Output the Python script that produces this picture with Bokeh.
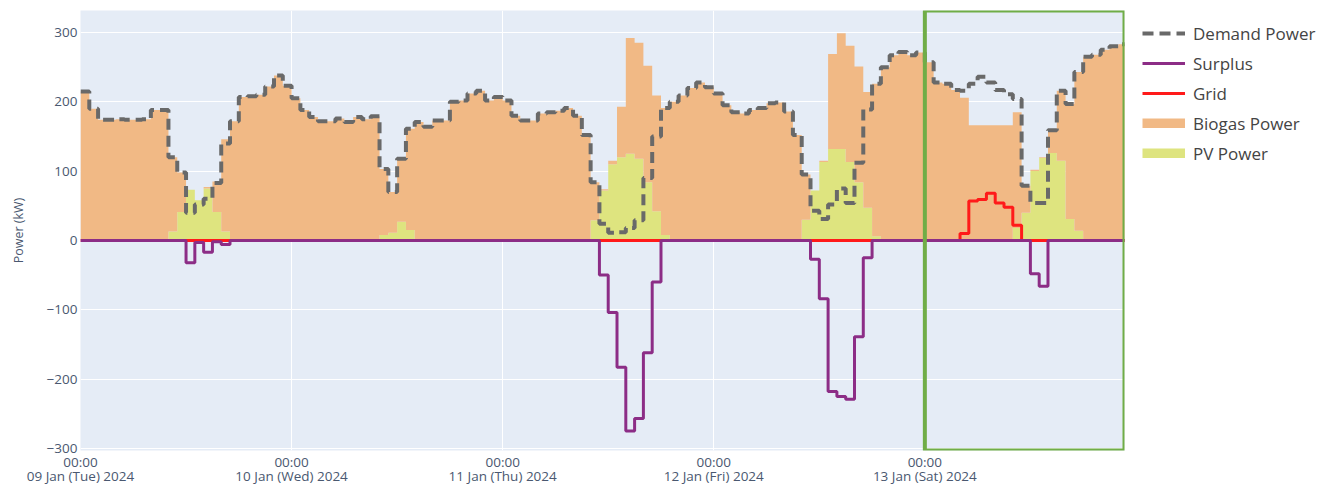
import numpy as np
from bokeh.plotting import figure
from bokeh.models import Range1d, FixedTicker, Legend, LegendItem, BoxAnnotation
from bokeh.embed import file_html
from bokeh.resources import INLINE

# ---------------- data (hourly, starting 09 Jan 2024 00:00) ----------------
hours = list(range(120))

demand_kw = [215, 190, 174, 174, 175, 174, 174, 175, 188, 188, 120, 98, 40, 52, 60, 83, 140, 172, 207, 208, 210, 222, 238, 223,
             205, 188, 178, 172, 172, 176, 171, 178, 175, 179, 103, 70, 118, 161, 171, 164, 173, 173, 200, 202, 212, 216, 202, 207,
             202, 180, 173, 173, 183, 185, 187, 191, 180, 152, 84, 24, 11, 12, 18, 29, 90, 150, 191, 200, 209, 220, 228, 221,
             212, 195, 185, 183, 188, 191, 198, 199, 186, 152, 95, 43, 31, 52, 75, 54, 112, 189, 226, 250, 267, 272, 267, 271,
             257, 228, 226, 217, 216, 226, 236, 228, 217, 211, 204, 79, 54, 54, 159, 216, 197, 243, 265, 268, 275, 280, 283, 283]

pv_kw = [0, 0, 0, 0, 0, 0, 0, 0, 0, 0, 13, 41, 73, 58, 75, 41, 13, 0, 0, 0, 0, 0, 0, 0,
         0, 0, 0, 0, 0, 0, 0, 0, 0, 0, 8, 11, 27, 15, 0, 0, 0, 0, 0, 0, 0, 0, 0, 0,
         0, 0, 0, 0, 0, 0, 0, 0, 0, 0, 29, 72, 110, 120, 125, 118, 84, 42, 8, 0, 0, 0, 0, 0,
         0, 0, 0, 0, 0, 0, 0, 0, 0, 0, 30, 72, 113, 132, 132, 113, 84, 47, 6, 0, 0, 0, 0, 0,
         0, 0, 0, 0, 0, 0, 0, 0, 0, 0, 18, 40, 100, 119, 126, 115, 31, 14, 0, 0, 0, 0, 0, 0]

biogas_kw = [215, 190, 174, 174, 175, 174, 174, 175, 188, 188, 107, 57, 0, 0, 2, 44, 133, 172, 207, 208, 210, 222, 238, 223,
             205, 188, 178, 172, 172, 176, 171, 178, 175, 179, 95, 59, 91, 146, 171, 164, 173, 173, 200, 202, 212, 216, 202, 207,
             202, 180, 173, 173, 183, 185, 187, 191, 180, 152, 55, 2, 5, 73, 167, 167, 168, 167, 183, 200, 209, 220, 228, 221,
             212, 195, 185, 183, 188, 191, 198, 199, 186, 152, 65, 0, 2, 137, 167, 168, 167, 167, 220, 250, 267, 272, 267, 271,
             257, 228, 226, 217, 206, 166, 166, 166, 166, 166, 167, 39, 2, 1, 33, 101, 166, 229, 265, 268, 275, 280, 283, 283]

grid_kw = [0] * 100 + [10, 57, 59, 68, 54, 48, 22] + [0] * 13

surplus_kw = [0, 0, 0, 0, 0, 0, 0, 0, 0, 0, 0, 0, -32, -3, -17, -2, -6, 0, 0, 0, 0, 0, 0, 0,
              0, 0, 0, 0, 0, 0, 0, 0, 0, 0, 0, 0, 0, 0, 0, 0, 0, 0, 0, 0, 0, 0, 0, 0,
              0, 0, 0, 0, 0, 0, 0, 0, 0, 0, 0, -50, -104, -183, -275, -257, -162, -60, 0, 0, 0, 0, 0, 0,
              0, 0, 0, 0, 0, 0, 0, 0, 0, 0, 0, -27, -84, -218, -225, -229, -139, -25, 0, 0, 0, 0, 0, 0,
              0, 0, 0, 0, 0, 0, 0, 0, 0, 0, 0, 0, -48, -66, 0, 0, 0, 0, 0, 0, 0, 0, 0, 0]

day_ticks = [0, 24, 48, 72, 96]
day_tick_labels = ["00:00\n09 Jan (Tue) 2024", "00:00\n10 Jan (Wed) 2024", "00:00\n11 Jan (Thu) 2024",
                   "00:00\n12 Jan (Fri) 2024", "00:00\n13 Jan (Sat) 2024"]
power_ticks = [-300, -200, -100, 0, 100, 200, 300]
power_tick_labels = ["\u2212300", "\u2212200", "\u2212100", "0", "100", "200", "300"]
highlight_start_h = 96  # 13 Jan (Sat) 00:00

X_END = 118.7
Y_MIN, Y_MAX = -303, 331.7

# ---------------- styling ----------------
FONT = "Open Sans"
TXT = "#4a5870"
BG = "#E5ECF6"
C_BIO = "#F1B985"
C_PV = "#DEE47F"
C_SUR = "#8C2D86"
C_GRID = "#FF1A1A"
C_DEM = "#696969"

FRAME_W, FRAME_H = 1044, 440

p = figure(frame_width=FRAME_W, frame_height=FRAME_H, output_backend="svg", toolbar_location=None,
           x_range=Range1d(0, X_END), y_range=Range1d(Y_MIN, Y_MAX),
           min_border_left=80, min_border_right=208, min_border_top=10, min_border_bottom=0,
           background_fill_color=BG, border_fill_color="white", outline_line_color=None)


def ext(a):
    return np.array(list(a) + [a[-1]], dtype=float)


x = np.array(hours + [hours[-1] + 1], dtype=float)
pv = ext(pv_kw)
bio_top = pv + ext(biogas_kw)

r_pv = p.varea_step(x=x, y1=np.zeros_like(x), y2=pv, step_mode="after", fill_color=C_PV)
r_bio = p.varea_step(x=x, y1=pv, y2=bio_top, step_mode="after", fill_color=C_BIO)
r_grid = p.step(x, ext(grid_kw), mode="after", line_color=C_GRID, line_width=3)
r_sur = p.step(x, ext(surplus_kw), mode="after", line_color=C_SUR, line_width=3)
r_dem = p.step(x, ext(demand_kw), mode="after", line_color=C_DEM, line_width=4, line_dash="11 6")

# legend swatches for the filled areas (thin bars, as in the original legend)
sw_bio = p.line(x=[np.nan], y=[np.nan], line_color=C_BIO, line_width=10)
sw_pv = p.line(x=[np.nan], y=[np.nan], line_color=C_PV, line_width=10)

box = BoxAnnotation(left=highlight_start_h, right=X_END, bottom=Y_MIN, top=Y_MAX,
                    fill_alpha=0, line_color="#70AD47", line_alpha=1.0, line_width=4)
p.add_layout(box)

# axes
p.xaxis.ticker = FixedTicker(ticks=day_ticks)
p.xaxis.major_label_overrides = dict(zip(day_ticks, day_tick_labels))
p.yaxis.ticker = FixedTicker(ticks=power_ticks)
p.yaxis.major_label_overrides = dict(zip(power_ticks, power_tick_labels))
for ax in (p.xaxis[0], p.yaxis[0]):
    ax.axis_line_color = None
    ax.major_tick_line_color = None
    ax.minor_tick_line_color = None
    ax.major_tick_out = 0
    ax.major_tick_in = 0
    ax.major_label_text_font = FONT
    ax.major_label_text_color = TXT
    ax.major_label_text_font_size = "13.5px"
p.xaxis.major_label_standoff = 2
p.xaxis.major_label_text_line_height = 0.78
p.yaxis.major_label_standoff = 3
p.yaxis.axis_label = "Power (kW)"
p.yaxis.axis_label_text_font = FONT
p.yaxis.axis_label_text_font_size = "12.5px"
p.yaxis.axis_label_text_font_style = "normal"
p.yaxis.axis_label_text_color = TXT
p.yaxis.axis_label_standoff = 17

p.grid.grid_line_color = "white"
p.grid.grid_line_width = 1

legend = Legend(items=[
    LegendItem(label="Demand Power", renderers=[r_dem]),
    LegendItem(label="Surplus", renderers=[r_sur]),
    LegendItem(label="Grid", renderers=[r_grid]),
    LegendItem(label="Biogas Power", renderers=[sw_bio]),
    LegendItem(label="PV Power", renderers=[sw_pv]),
], location=(18, FRAME_H - 8 - 150))
legend.padding = 0
legend.margin = 0
legend.spacing = 0
legend.glyph_width = 43
legend.glyph_height = 10
legend.label_height = 30
legend.label_standoff = 8
legend.label_text_font = FONT
legend.label_text_font_size = "17px"
legend.label_text_color = "#444444"
legend.border_line_color = None
legend.background_fill_alpha = 0
p.add_layout(legend, "right")

open("out.html", "w").write(file_html(p, INLINE))
